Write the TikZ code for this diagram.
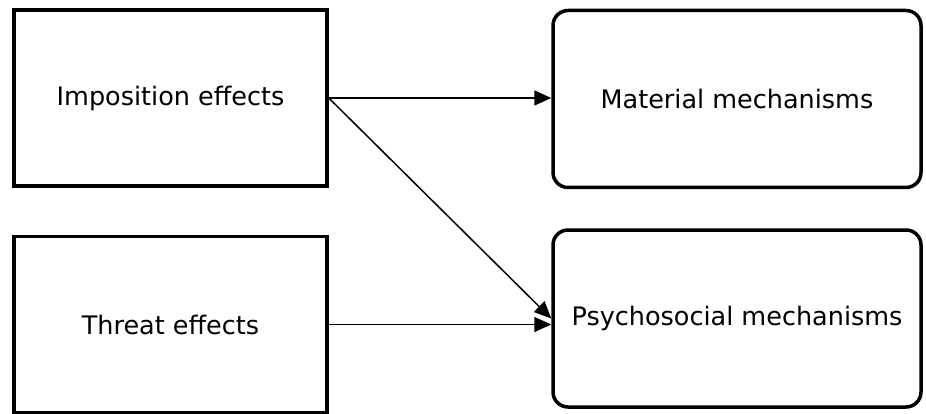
\documentclass[tikz,border=0pt]{standalone}
\usepackage{xcolor}
\usepackage{fontspec}
\setsansfont{DejaVu Sans}
\usepackage{tikz}
\usetikzlibrary{arrows.meta}

\begin{document}
\begin{tikzpicture}[x=1pt, y=-1pt, every node/.style={draw, line width=3.5pt, align=center, font=\fontsize{25.5}{30}\selectfont\sffamily}, effect/.style={minimum width=313pt, minimum height=176pt}, mechanism/.style={rounded corners=15pt, minimum width=368pt, minimum height=177pt}, link/.style={line width=1.5pt, -{Triangle[length=17pt,width=15pt]}}]
  \useasboundingbox (0,0) rectangle (926,414);
  \node [effect] (a) at (170.5,98) {Imposition effects};
  \node [effect] (b) at (170.5,324.5) {Threat effects};
  \node [mechanism] (c) at (737,99) {Material mechanisms};
  \node [mechanism] (d) at (737,318.5) {Psychosocial mechanisms};
  \draw [link] (a.east) -- (a.east -| c.west);
  \draw [link] (a.east) -- (d.west);
  \draw [link] (b.east) -- (b.east -| d.west);
\end{tikzpicture}
\end{document}
